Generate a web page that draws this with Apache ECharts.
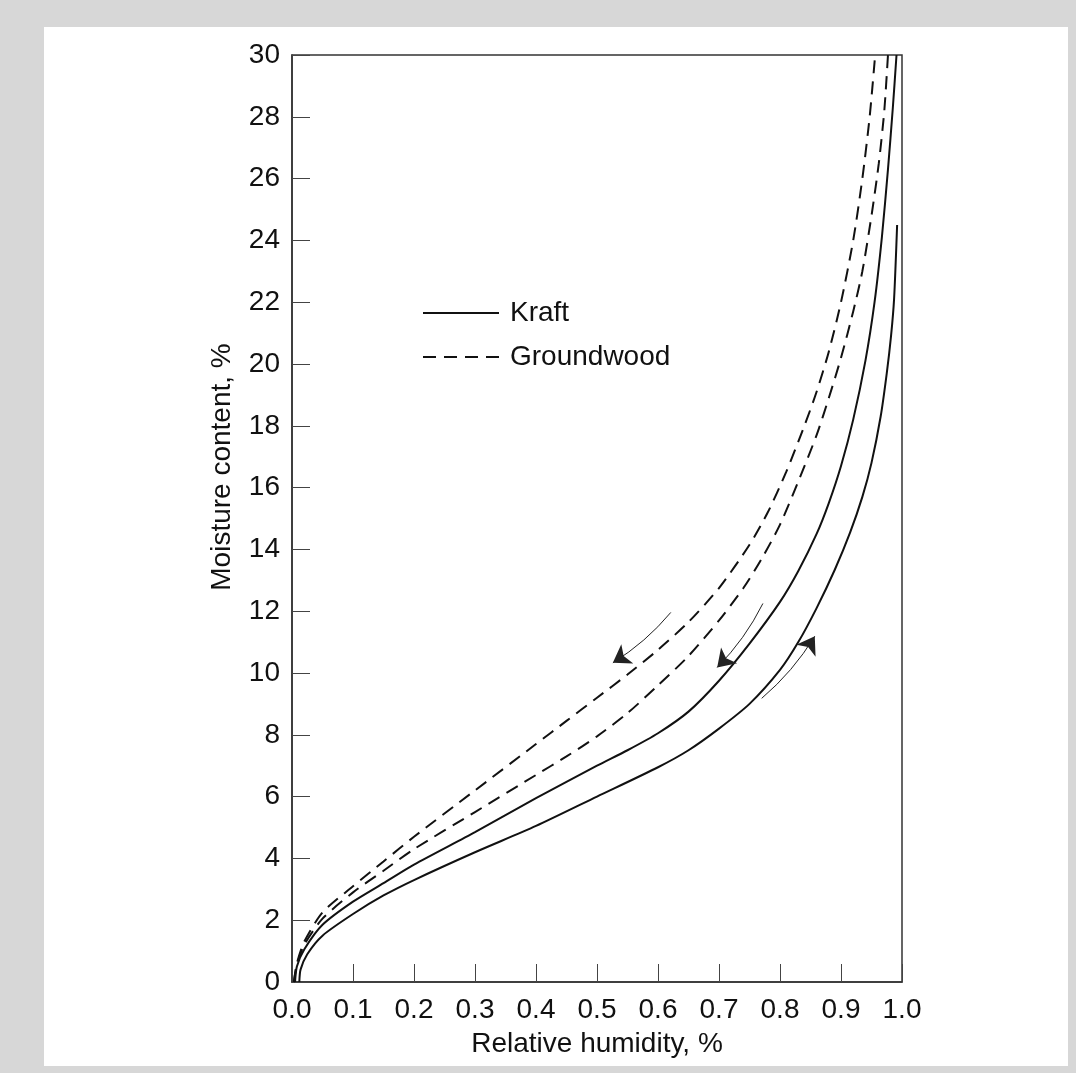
<!DOCTYPE html>
<html>
<head>
<meta charset="utf-8">
<title>Moisture content vs relative humidity</title>
<script src="https://cdn.jsdelivr.net/npm/echarts@6/dist/echarts.min.js"></script>
<style>
  html, body { margin: 0; padding: 0; background: #fff; }
  #chart { width: 1076px; height: 1073px; }
</style>
</head>
<body>
<div id="chart"></div>
<script>
  // axis ticks
  const xTicks = [0, 0.1, 0.2, 0.3, 0.4, 0.5, 0.6, 0.7, 0.8, 0.9, 1.0]
  const yTicks = [0, 2, 4, 6, 8, 10, 12, 14, 16, 18, 20, 22, 24, 26, 28, 30]

  // groundwood, upper (desorption) curve  [RH, moisture %]
  const groundwoodUpper = [
    [0.003, 0], [0.008, 0.6], [0.02, 1.3], [0.05, 2.25], [0.1, 3.1], [0.15, 3.9],
    [0.2, 4.7], [0.3, 6.2], [0.4, 7.7], [0.45, 8.45], [0.5, 9.2], [0.55, 9.95],
    [0.6, 10.75], [0.65, 11.65], [0.7, 12.75], [0.75, 14.15], [0.78, 15.2], [0.81, 16.5],
    [0.84, 18.0], [0.86, 19.1], [0.88, 20.4], [0.9, 22.0], [0.92, 24.0], [0.935, 26.0],
    [0.947, 28.0], [0.956, 30]
  ]
  // groundwood, lower curve
  const groundwoodLower = [
    [0.003, 0], [0.008, 0.55], [0.02, 1.2], [0.05, 2.05], [0.1, 2.9], [0.15, 3.6],
    [0.2, 4.3], [0.3, 5.5], [0.4, 6.7], [0.45, 7.3], [0.5, 7.95], [0.55, 8.7],
    [0.6, 9.6], [0.65, 10.55], [0.7, 11.7], [0.74, 12.75], [0.77, 13.7], [0.8, 14.8],
    [0.83, 16.2], [0.86, 17.7], [0.88, 18.9], [0.9, 20.2], [0.92, 21.7], [0.935, 23.0],
    [0.95, 24.8], [0.962, 26.5], [0.971, 28.2], [0.977, 30]
  ]
  // kraft, desorption curve
  const kraftDesorb = [
    [0.005, 0], [0.008, 0.5], [0.02, 1.05], [0.05, 1.85], [0.1, 2.6], [0.15, 3.2],
    [0.2, 3.8], [0.3, 4.85], [0.4, 5.95], [0.5, 7.0], [0.55, 7.5], [0.6, 8.05],
    [0.65, 8.75], [0.7, 9.75], [0.75, 10.95], [0.8, 12.3], [0.83, 13.3], [0.86, 14.5],
    [0.88, 15.5], [0.9, 16.7], [0.92, 18.2], [0.94, 20.1], [0.955, 22.0], [0.967, 24.1],
    [0.977, 26.3], [0.985, 28.3], [0.991, 30]
  ]
  // kraft, adsorption curve
  const kraftAdsorb = [
    [0.012, 0], [0.014, 0.4], [0.025, 0.9], [0.05, 1.5], [0.1, 2.2], [0.15, 2.8],
    [0.2, 3.3], [0.3, 4.2], [0.4, 5.05], [0.5, 6.0], [0.6, 6.95], [0.65, 7.5],
    [0.7, 8.2], [0.75, 9.0], [0.8, 10.1], [0.83, 11.0], [0.86, 12.1], [0.89, 13.35],
    [0.915, 14.55], [0.935, 15.7], [0.95, 16.8], [0.965, 18.3], [0.975, 19.7],
    [0.982, 20.9], [0.987, 22.1], [0.992, 24.5]
  ]

  // direction arrows: tail -> head
  const arrowTails = [[0.621, 11.96], [0.772, 12.25], [0.770, 9.18]]
  const arrowHeads = [[0.526, 10.33], [0.697, 10.18], [0.857, 11.19]]
  const arrowBend = [0.08, 0.08, -0.08]

  const FONT = 'Liberation Sans'
  const INK = '#111'
  const FS = 28

  const chart = echarts.init(document.getElementById('chart'), null, { renderer: 'canvas' })

  // common curve style
  function curve(name, data, dashed) {
    return {
      name: name,
      type: 'line',
      data: data,
      smooth: 0.25,
      symbol: 'none',
      showSymbol: false,
      silent: true,
      lineStyle: {
        color: INK,
        width: 2,
        type: dashed ? [13, 8] : 'solid'
      },
      itemStyle: { color: INK },
      z: 3
    }
  }

  const option = {
    backgroundColor: '#d7d7d7',
    animation: false,
    graphic: [{
      type: 'rect',
      z: -10,
      silent: true,
      shape: { x: 44, y: 27, width: 1024, height: 1039 },
      style: { fill: '#fff' }
    }, {
      // y axis title, sits a bit above the axis middle like the original
      type: 'text',
      x: 222,
      y: 467,
      rotation: Math.PI / 2,
      silent: true,
      style: {
        text: 'Moisture content, %',
        fontFamily: FONT,
        fontSize: FS,
        fill: INK,
        textAlign: 'center',
        textVerticalAlign: 'middle'
      }
    }],
    grid: {
      left: 292,
      top: 55,
      width: 610,
      height: 927,
      show: true,
      borderColor: '#333',
      borderWidth: 1.5,
      backgroundColor: 'transparent'
    },
    legend: {
      orient: 'vertical',
      left: 417,
      top: 294,
      itemWidth: 76,
      itemHeight: 28,
      itemGap: 16,
      selectedMode: false,
      data: ['Kraft', 'Groundwood'],
      itemStyle: { opacity: 0 },
      textStyle: {
        fontFamily: FONT,
        fontSize: FS,
        color: INK,
        padding: [0, 0, 0, 6]
      }
    },
    xAxis: {
      type: 'value',
      min: xTicks[0],
      max: xTicks[xTicks.length - 1],
      interval: 0.1,
      name: 'Relative humidity, %',
      nameLocation: 'middle',
      nameGap: 48,
      nameTextStyle: { fontFamily: FONT, fontSize: FS, color: INK },
      axisLine: { show: true, lineStyle: { color: '#333', width: 1.5 } },
      axisTick: { show: true, inside: true, length: 18, lineStyle: { color: '#444', width: 1 } },
      axisLabel: {
        margin: 14,
        fontFamily: FONT,
        fontSize: FS,
        color: INK,
        formatter: v => v.toFixed(1)
      },
      splitLine: { show: false }
    },
    yAxis: {
      type: 'value',
      min: yTicks[0],
      max: yTicks[yTicks.length - 1],
      interval: 2,
      axisLine: { show: true, lineStyle: { color: '#333', width: 1.5 } },
      axisTick: { show: true, inside: true, length: 18, lineStyle: { color: '#444', width: 1 } },
      axisLabel: { margin: 12, fontFamily: FONT, fontSize: FS, color: INK },
      splitLine: { show: false }
    },
    series: [
      curve('Kraft', kraftDesorb, false),
      curve('Kraft', kraftAdsorb, false),
      curve('Groundwood', groundwoodUpper, true),
      curve('Groundwood', groundwoodLower, true),
      {
        type: 'lines',
        coordinateSystem: 'cartesian2d',
        silent: true,
        symbol: ['none', 'arrow'],
        symbolSize: 17,
        lineStyle: { color: '#222', width: 1, opacity: 1 },
        data: arrowTails.map((t, i) => ({
          coords: [t, arrowHeads[i]],
          lineStyle: { curveness: arrowBend[i] }
        })),
        z: 4
      }
    ]
  }

  chart.setOption(option)
</script>
</body>
</html>
